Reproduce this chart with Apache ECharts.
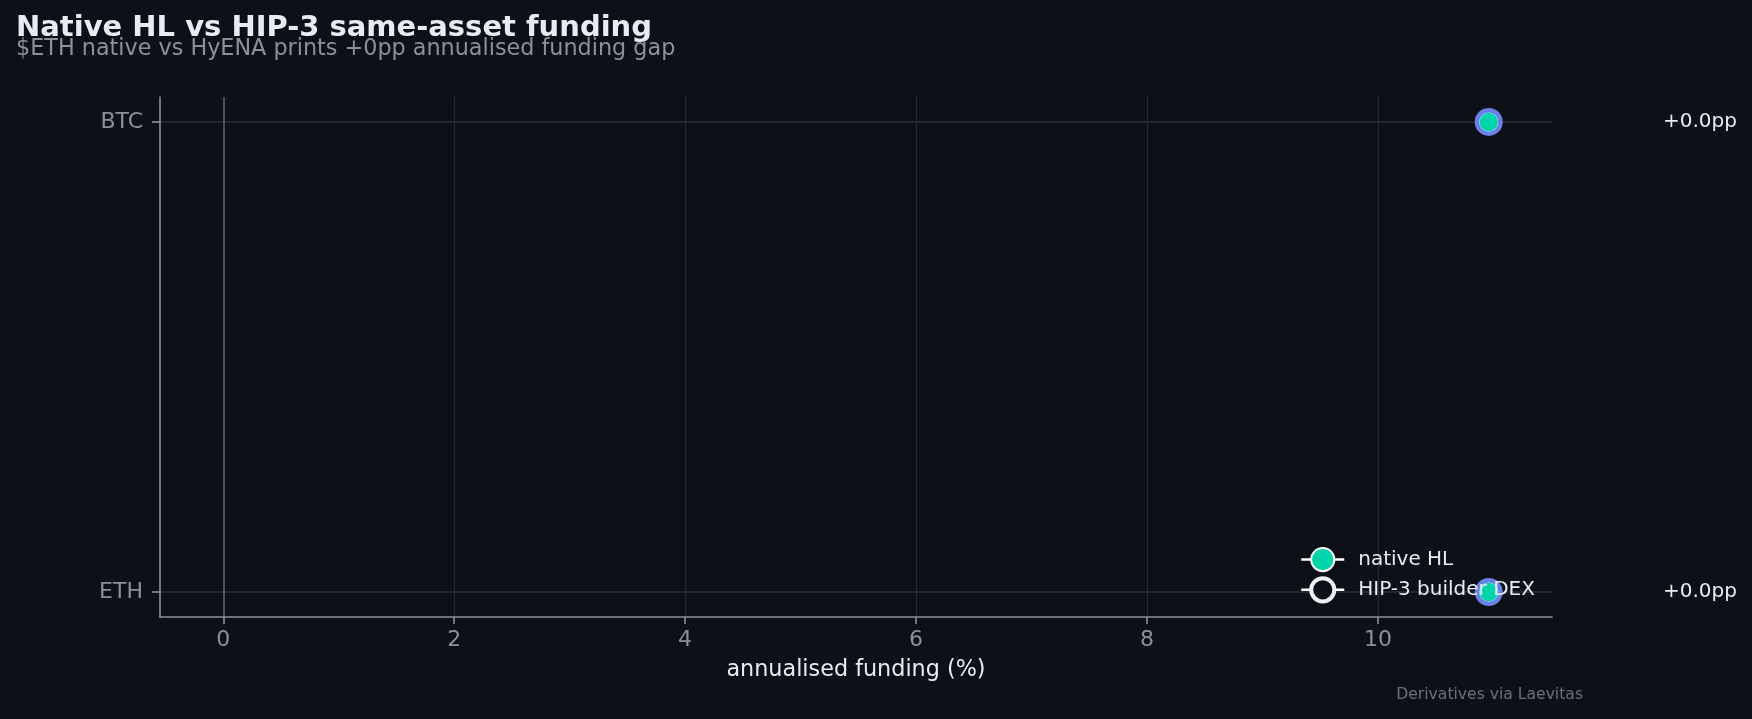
<!DOCTYPE html>
<html>
<head>
<meta charset="utf-8">
<script src="https://cdn.jsdelivr.net/npm/echarts@6/dist/echarts.min.js"></script>
<style>
html,body{margin:0;padding:0;background:#0d1017;}
#c{width:1752px;height:719px;}
</style>
</head>
<body>
<div id="c"></div>
<script>
// ---- data ----
const categories = ['BTC', 'ETH'];
const nativeHL = [10.96, 10.96];
const hip3DEX = [10.96, 10.96];
const xTicks = [0, 2, 4, 6, 8, 10];
const seriesNames = ['native HL', 'HIP-3 builder DEX'];
const titleText = 'Native HL vs HIP-3 same-asset funding';
const subtitleText = '$ETH native vs HyENA prints +0pp annualised funding gap';
const xAxisLabel = 'annualised funding (%)';
const footerText = 'Derivatives via Laevitas';

const FONT = 'DejaVu Sans';
const gaps = categories.map((c, i) => hip3DEX[i] - nativeHL[i]);

// axis extents with margins (matplotlib-like)
const allX = nativeHL.concat(hip3DEX, [0]);
const dMin = Math.min(...allX), dMax = Math.max(...allX);
const xPad = (dMax - dMin) * 0.05;
const xMin = dMin - xPad, xMax = dMax + xPad;
const yPad = (categories.length - 1) * 0.053;
const yMin = -yPad, yMax = categories.length - 1 + yPad;

const chart = echarts.init(document.getElementById('c'), null, {renderer: 'canvas'});

const option = {
  backgroundColor: '#0d1017',
  animation: false,
  title: [
    {text: titleText, left: 16, top: 14, padding: 0,
     textStyle: {fontFamily: FONT, fontSize: 29, fontWeight: 'bold', color: '#e6ebf5'}},
    {text: subtitleText, left: 16, top: 38, padding: 0,
     textStyle: {fontFamily: FONT, fontSize: 22.3, fontWeight: 'normal', color: '#8b919c'}}
  ],
  grid: {left: 160, right: 200, top: 97, bottom: 102, containLabel: false},
  xAxis: {
    type: 'value', min: xMin, max: xMax,
    name: xAxisLabel, nameLocation: 'middle', nameGap: 42,
    nameTextStyle: {fontFamily: FONT, fontSize: 22.3, color: '#e6ebf5'},
    axisLine: {show: true, onZero: false, lineStyle: {color: '#8b919c', width: 1.6}},
    axisTick: {show: true, length: 7, customValues: xTicks, lineStyle: {color: '#8b919c', width: 1.6}},
    axisLabel: {show: true, customValues: xTicks, margin: 12, fontFamily: FONT, fontSize: 22, color: '#8b919c',
                showMinLabel: true, showMaxLabel: true},
    splitLine: {show: false}
  },
  yAxis: {
    type: 'value', min: yMin, max: yMax, inverse: true,
    axisLine: {show: true, onZero: false, lineStyle: {color: '#8b919c', width: 1.6}},
    axisTick: {show: true, length: 8, customValues: categories.map((c, i) => i), lineStyle: {color: '#8b919c', width: 1.6}},
    axisLabel: {show: true, customValues: categories.map((c, i) => i), margin: 17,
                fontFamily: FONT, fontSize: 22, color: '#8b919c',
                formatter: v => categories[Math.round(v)] || ''},
    splitLine: {show: false}
  },
  legend: {
    orient: 'vertical', left: 1300, top: 547, align: 'left', padding: 0, z: 10,
    itemWidth: 43, itemHeight: 29, itemGap: 4,
    textStyle: {fontFamily: FONT, fontSize: 20, color: '#e6ebf5', padding: [0, 0, 0, 9]},
    data: [
      {name: seriesNames[0],
       itemStyle: {color: '#00d4aa', borderColor: '#ffffff', borderWidth: 2},
       lineStyle: {color: '#ffffff', width: 2.5, opacity: 1}},
      {name: seriesNames[1],
       itemStyle: {color: '#0d1017', borderColor: '#eef0f5', borderWidth: 4},
       lineStyle: {color: '#ffffff', width: 2.5, opacity: 1}}
    ]
  },
  series: [
    {
      type: 'line', name: '__grid', data: [], silent: true, z: 0,
      markLine: {
        silent: true, symbol: 'none', animation: false, z: 0,
        label: {show: false},
        data: [].concat(
          xTicks.filter(v => v !== 0).map(v => ({xAxis: v, lineStyle: {color: '#262a32', width: 1.3, type: 'solid'}})),
          categories.map((c, i) => ({yAxis: i, lineStyle: {color: '#22262e', width: 1.8, type: 'solid'}})),
          [{xAxis: 0, lineStyle: {color: '#5c616b', width: 1.6, type: 'solid'}}]
        )
      }
    },
    {
      type: 'line', name: seriesNames[0], z: 2,
      data: categories.map((c, i) => [nativeHL[i], i]),
      symbol: 'circle', symbolSize: 20, showSymbol: true,
      lineStyle: {width: 0, opacity: 0},
      itemStyle: {color: '#00d4aa', borderColor: '#ffffff', borderWidth: 1.5}
    },
    {
      type: 'line', name: seriesNames[1], z: 3,
      data: categories.map((c, i) => [hip3DEX[i], i]),
      symbol: 'circle', symbolSize: 23.5, showSymbol: true,
      lineStyle: {width: 0, opacity: 0},
      itemStyle: {color: 'rgba(0,0,0,0)', borderColor: '#6a7fe8', borderWidth: 4.5}
    }
  ]
};
chart.setOption(option);

// right-side gap annotations and footer
const fmtGap = g => (g >= 0 ? '+' : '') + g.toFixed(1) + 'pp';
const graphics = categories.map((c, i) => ({
  type: 'text', x: 1663,
  y: chart.convertToPixel({yAxisIndex: 0}, i),
  style: {text: fmtGap(gaps[i]), fontFamily: FONT, fontSize: 20, fill: '#e6ebf5',
          verticalAlign: 'middle'}
}));
graphics.push({
  type: 'text', x: 1583, y: 695,
  style: {text: footerText, fontFamily: FONT, fontSize: 15.6, fill: '#6b7079',
          align: 'right', verticalAlign: 'middle'}
});
chart.setOption({graphic: graphics});
</script>
</body>
</html>
